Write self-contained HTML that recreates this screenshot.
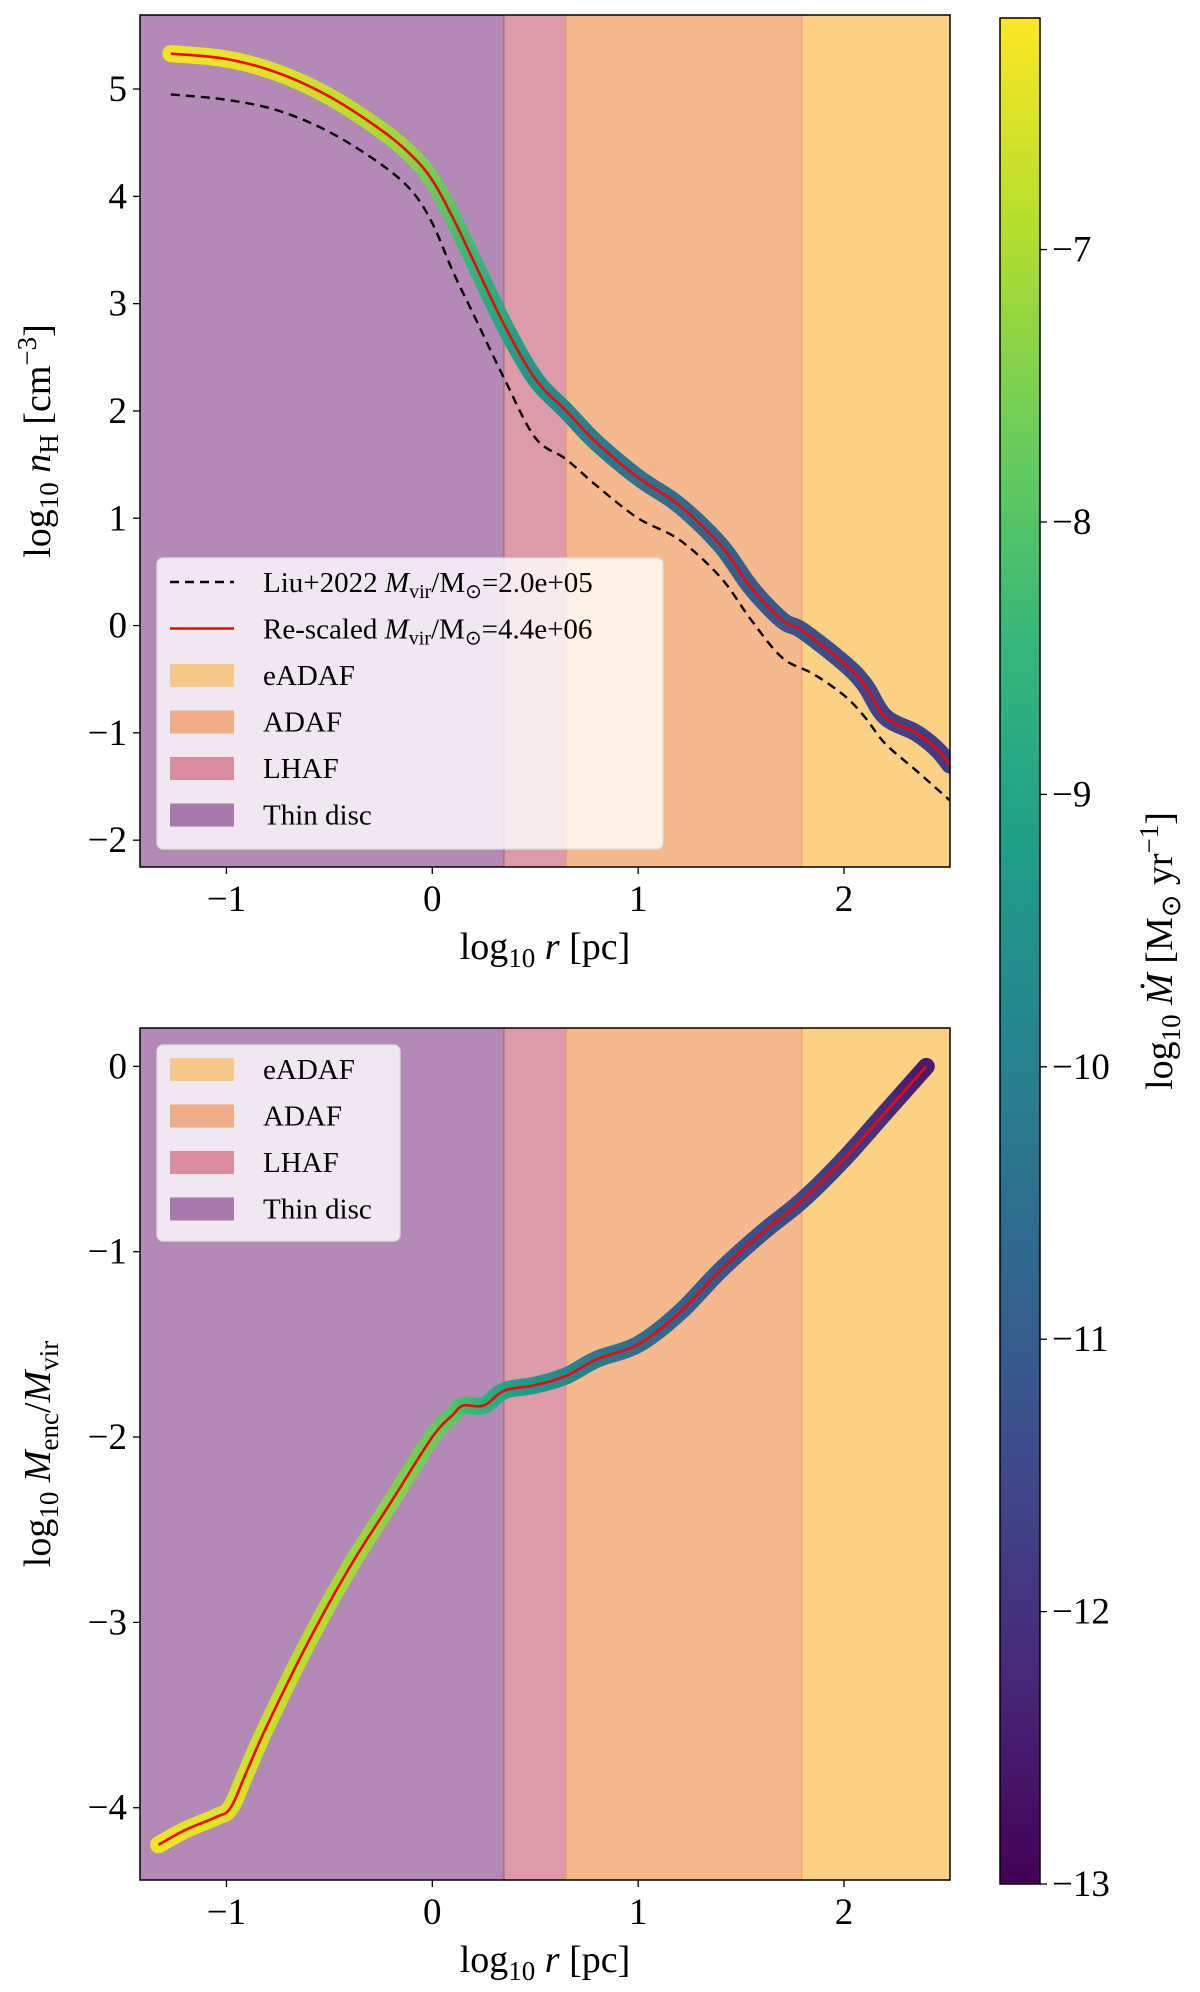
<!DOCTYPE html>
<html><head><meta charset="utf-8"><style>
body{margin:0;background:#fff}
svg{display:block;font-family:"Liberation Serif",serif}
</style></head><body>
<svg id="fig" width="1200" height="1992" viewBox="0 0 1200 1992">
<defs>
<linearGradient id="vir" x1="0" y1="1" x2="0" y2="0"></linearGradient>
</defs>
<g id="topPanel"></g>
<g id="botPanel"></g>
<g id="cbar"></g>
</svg>
<script>
// ---- data ----
const regionNames = ["Thin disc","LHAF","ADAF","eADAF"];
const regionEdges = [-1.42, 0.348, 0.652, 1.795, 2.515];
const regionColors = ["#b38ab5","#dd9aa8","#f6b98e","#fad185"];
const legendRegionColors = {"eADAF":"#f6c98a","ADAF":"#f0ac87","LHAF":"#d98c9e","Thin disc":"#a77aab"};

const topX = [-1.27,-1.0,-0.75,-0.5,-0.25,-0.1,0,0.1,0.2,0.35,0.5,0.65,0.8,1.0,1.2,1.4,1.55,1.7,1.8,2.0,2.1,2.2,2.35,2.45,2.515];
const topY = [5.33,5.28,5.15,4.93,4.62,4.38,4.15,3.8,3.4,2.8,2.3,2.0,1.7,1.38,1.12,0.75,0.35,0.05,-0.05,-0.35,-0.55,-0.85,-1.0,-1.15,-1.3];
const topMdot = [-6.3,-6.35,-6.5,-6.7,-7.0,-7.3,-7.6,-8.0,-8.4,-8.9,-9.4,-9.8,-10.1,-10.4,-10.6,-10.8,-11.0,-11.1,-11.2,-11.4,-11.5,-11.6,-11.7,-11.8,-11.8];
const liuX = [-1.27,-1.0,-0.75,-0.5,-0.25,-0.1,0,0.1,0.2,0.35,0.5,0.65,0.8,1.0,1.2,1.4,1.55,1.7,1.85,2.0,2.1,2.2,2.35,2.515];
const liuY = [4.95,4.9,4.8,4.6,4.3,4.05,3.75,3.3,2.9,2.3,1.75,1.55,1.3,1.0,0.8,0.45,0.05,-0.3,-0.45,-0.65,-0.85,-1.1,-1.35,-1.63];

const botX = [-1.33,-1.2,-1.05,-0.98,-0.9,-0.8,-0.6,-0.4,-0.2,0,0.1,0.15,0.25,0.35,0.5,0.65,0.8,1.0,1.2,1.4,1.6,1.8,2.0,2.2,2.4];
const botY = [-4.2,-4.12,-4.05,-4.0,-3.8,-3.55,-3.1,-2.7,-2.35,-2.0,-1.88,-1.83,-1.83,-1.75,-1.72,-1.67,-1.58,-1.5,-1.33,-1.1,-0.9,-0.72,-0.5,-0.25,0.0];
const botMdot = [-6.3,-6.35,-6.45,-6.5,-6.6,-6.7,-6.9,-7.1,-7.4,-7.7,-7.9,-8.1,-8.5,-8.9,-9.3,-9.7,-10.1,-10.5,-10.8,-11.1,-11.3,-11.5,-11.8,-12.1,-12.5];

const xTicks = [-1,0,1,2];
const topYTicks = [-2,-1,0,1,2,3,4,5];
const botYTicks = [-4,-3,-2,-1,0];
const cbTicks = [-13,-12,-11,-10,-9,-8,-7];

// ---- layout ----
const NS="http://www.w3.org/2000/svg";
const XL=140, XR=950, xmin=-1.42, xmax=2.515;
const TT=15, TB=867, tymin=-2.25, tymax=5.69;
const BT=1028, BB=1880, bymin=-4.39, bymax=0.207;
const CL=1000, CR=1040, CT=18, CB=1884, cmin=-13, cmax=-6.15;
const sx=v=>XL+(v-xmin)/(xmax-xmin)*(XR-XL);
const syT=v=>TB-(v-tymin)/(tymax-tymin)*(TB-TT);
const syB=v=>BB-(v-bymin)/(bymax-bymin)*(BB-BT);
const sc=v=>CB-(v-cmin)/(cmax-cmin)*(CB-CT);
const TF=37, LF=38;

const vir=[[68,1,84],[72,40,120],[62,74,137],[49,104,142],[38,130,142],[31,158,137],[53,183,121],[109,205,89],[180,222,44],[253,231,37]];
function viridis(t){t=Math.max(0,Math.min(1,t));const p=t*(vir.length-1),i=Math.min(Math.floor(p),vir.length-2),f=p-i;
 const c=vir[i].map((a,k)=>Math.round(a+(vir[i+1][k]-a)*f));return `rgb(${c.join(',')})`;}
const mcol=m=>viridis((m-cmin)/(cmax-cmin));

function el(tag,attrs,parent,text){const e=document.createElementNS(NS,tag);for(const k in attrs)e.setAttribute(k,attrs[k]);if(text!==undefined)e.textContent=text;parent.appendChild(e);return e;}

// Catmull-Rom smoothing of pixel points (drawing only)
function smooth(pts,n){const out=[];for(let i=0;i<pts.length-1;i++){const p0=pts[Math.max(0,i-1)],p1=pts[i],p2=pts[i+1],p3=pts[Math.min(pts.length-1,i+2)];
  for(let k=0;k<n;k++){const t=k/n,t2=t*t,t3=t2*t;const f=(a,b,c,d)=>0.5*((2*b)+(-a+c)*t+(2*a-5*b+4*c-d)*t2+(-a+3*b-3*c+d)*t3);
   out.push([f(p0[0],p1[0],p2[0],p3[0]),f(p0[1],p1[1],p2[1],p3[1]),p1[2]+(p2[2]-p1[2])*t]);}}
  out.push(pts[pts.length-1]);return out;}

const grad=document.getElementById('vir');
vir.forEach((c,i)=>el('stop',{offset:(i/(vir.length-1)),'stop-color':`rgb(${c.join(',')})`},grad));

function panel(g,T,B,sy,yTicks,xs,ys,ms,clipId){
  const defs=el('clipPath',{id:clipId},g);el('rect',{x:XL,y:T,width:XR-XL,height:B-T},defs);
  regionNames.forEach((n,i)=>{
    const r=el('rect',{x:sx(regionEdges[i]),y:T,width:sx(regionEdges[i+1])-sx(regionEdges[i]),height:B-T,fill:regionColors[i]},g);
    
    
  });
  for(let i=1;i<4;i++){const l=el('line',{x1:sx(regionEdges[i]),x2:sx(regionEdges[i]),y1:T,y2:B,stroke:i==1?'#9a6c8e':'#eba070','stroke-width':1.2},g);
    
    }
  const cg=el('g',{'clip-path':`url(#${clipId})`},g);
  const sp=smooth(xs.map((x,i)=>[sx(x),sy(ys[i]),ms[i]]),10);
  for(let i=0;i<sp.length-1;i++){
    const s=el('line',{x1:sp[i][0],y1:sp[i][1],x2:sp[i+1][0],y2:sp[i+1][1],stroke:mcol((sp[i][2]+sp[i+1][2])/2),'stroke-width':17,'stroke-linecap':'round'},cg);
    
    
  }
  const red=el('polyline',{points:sp.map(p=>p[0]+','+p[1]).join(' '),fill:'none',stroke:'#ff0000','stroke-width':2.6,'stroke-linejoin':'round'},cg);
  
  
  const fr=el('rect',{x:XL,y:T,width:XR-XL,height:B-T,fill:'none',stroke:'#000','stroke-width':1.5},g);
  
  
  xTicks.forEach(v=>{el('line',{x1:sx(v),x2:sx(v),y1:B,y2:B+7,stroke:'#000','stroke-width':1.3},g);
    const t=el('text',{x:sx(v),y:B+44,'font-size':TF,'text-anchor':'middle'},g,(v<0?'\u2212':'')+Math.abs(v));
    
    });
  yTicks.forEach(v=>{el('line',{x1:XL-7,x2:XL,y1:sy(v),y2:sy(v),stroke:'#000','stroke-width':1.3},g);
    const t=el('text',{x:XL-13,y:sy(v)+12,'font-size':TF,'text-anchor':'end'},g,(v<0?'\u2212':'')+Math.abs(v));
    
    });
  const xl=el('text',{x:(XL+XR)/2,y:B+92,'font-size':LF,'text-anchor':'middle'},g);
  xl.innerHTML='log<tspan font-size="27" dy="8">10</tspan><tspan dy="-8"> </tspan><tspan font-style="italic">r</tspan> [pc]';
  
  
  return cg;
}

function legend(g,x,y,w,h,entries){
  const b=el('rect',{x:x,y:y,width:w,height:h,rx:6,fill:'rgba(255,255,255,0.8)',stroke:'#ddd','stroke-width':1.2},g);
  
  
  entries.forEach((e,i)=>{
    const yy=y+24+i*46.5;
    if(e.type==='line'){const l=el('line',{x1:x+13,x2:x+77,y1:yy,y2:yy,stroke:e.color,'stroke-width':2.4,'stroke-dasharray':e.dash||'none'},g);
      
      }
    else{const r=el('rect',{x:x+13,y:yy-11,width:64,height:23,fill:e.color},g);
      
      }
    const t=el('text',{x:x+106,y:yy+10,'font-size':29},g);t.innerHTML=e.label;
    
    
  });
}

const gTop=document.getElementById('topPanel');
const cgT=panel(gTop,TT,TB,syT,topYTicks,topX,topY,topMdot,'clipT');
const lsp=smooth(liuX.map((x,i)=>[sx(x),syT(liuY[i]),0]),10);
const dl=el('polyline',{points:lsp.map(p=>p[0]+','+p[1]).join(' '),fill:'none',stroke:'#000','stroke-width':2.4,'stroke-dasharray':'9,6','clip-path':'url(#clipT)'},gTop);


gTop.insertBefore(dl,cgT);
const yl=el('text',{transform:`translate(50,${(TT+TB)/2}) rotate(-90)`,'font-size':LF,'text-anchor':'middle'},gTop);
yl.innerHTML='log<tspan font-size="27" dy="8">10</tspan><tspan dy="-8"> </tspan><tspan font-style="italic">n</tspan><tspan font-size="27" dy="8">H</tspan><tspan dy="-8"> [cm</tspan><tspan font-size="27" dy="-14">\u22123</tspan><tspan dy="14">]</tspan>';


legend(gTop,157,558,506,291,[
 {type:'line',color:'#000',dash:'9,6',label:'Liu+2022 <tspan font-style="italic">M</tspan><tspan font-size="20" dy="6">vir</tspan><tspan dy="-6">/M</tspan><tspan font-size="20" dy="6">\u2299</tspan><tspan dy="-6">=2.0e+05</tspan>'},
 {type:'line',color:'#ff0000',label:'Re-scaled <tspan font-style="italic">M</tspan><tspan font-size="20" dy="6">vir</tspan><tspan dy="-6">/M</tspan><tspan font-size="20" dy="6">\u2299</tspan><tspan dy="-6">=4.4e+06</tspan>'},
 {type:'patch',color:legendRegionColors["eADAF"],label:'eADAF'},
 {type:'patch',color:legendRegionColors["ADAF"],label:'ADAF'},
 {type:'patch',color:legendRegionColors["LHAF"],label:'LHAF'},
 {type:'patch',color:legendRegionColors["Thin disc"],label:'Thin disc'}]);

const gBot=document.getElementById('botPanel');
panel(gBot,BT,BB,syB,botYTicks,botX,botY,botMdot,'clipB');
const yl2=el('text',{transform:`translate(50,${(BT+BB)/2}) rotate(-90)`,'font-size':LF,'text-anchor':'middle'},gBot);
yl2.innerHTML='log<tspan font-size="27" dy="8">10</tspan><tspan dy="-8"> </tspan><tspan font-style="italic">M</tspan><tspan font-size="27" dy="8">enc</tspan><tspan dy="-8">/</tspan><tspan font-style="italic">M</tspan><tspan font-size="27" dy="8">vir</tspan>';


legend(gBot,157,1045,243,196,[
 {type:'patch',color:legendRegionColors["eADAF"],label:'eADAF'},
 {type:'patch',color:legendRegionColors["ADAF"],label:'ADAF'},
 {type:'patch',color:legendRegionColors["LHAF"],label:'LHAF'},
 {type:'patch',color:legendRegionColors["Thin disc"],label:'Thin disc'}]);

const cb=document.getElementById('cbar');
const cr=el('rect',{x:CL,y:CT,width:CR-CL,height:CB-CT,fill:'url(#vir)',stroke:'#000','stroke-width':1.5},cb);


cbTicks.forEach(v=>{el('line',{x1:CR,x2:CR+7,y1:sc(v),y2:sc(v),stroke:'#000','stroke-width':1.3},cb);
  const t=el('text',{x:CR+12,y:sc(v)+12,'font-size':TF},cb,'\u2212'+Math.abs(v));
  
  });
const cl=el('text',{transform:`translate(1172,${(CT+CB)/2}) rotate(-90)`,'font-size':LF,'text-anchor':'middle'},cb);
cl.innerHTML='log<tspan font-size="27" dy="8">10</tspan><tspan dy="-8"> </tspan><tspan font-style="italic">Ṁ</tspan> [M<tspan font-size="27" dy="8">\u2299</tspan><tspan dy="-8"> yr</tspan><tspan font-size="27" dy="-14">\u22121</tspan><tspan dy="14">]</tspan>';


</script>
</body></html>
